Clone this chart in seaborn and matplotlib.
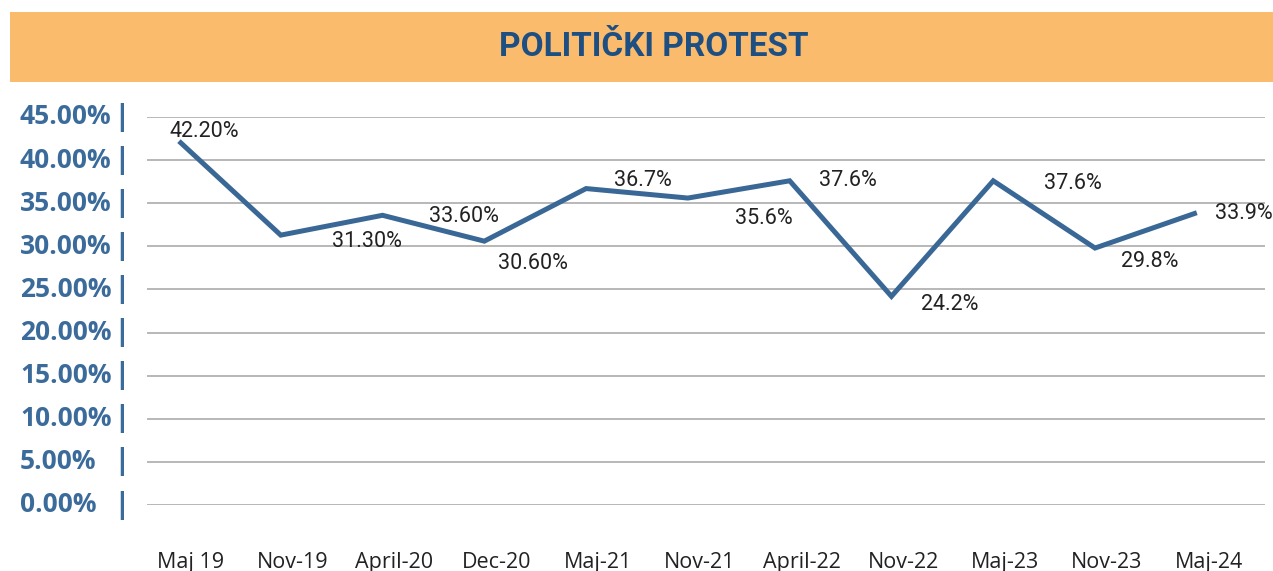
import matplotlib
matplotlib.use("Agg")
import matplotlib.pyplot as plt
import matplotlib.transforms as mtransforms
from matplotlib.patches import Rectangle
import seaborn as sns
import pandas as pd

# ---- data ----
categories = ["Maj 19", "Nov-19", "April-20", "Dec-20", "Maj-21", "Nov-21",
              "April-22", "Nov-22", "Maj-23", "Nov-23", "Maj-24"]
values = [42.2, 31.3, 33.6, 30.6, 36.7, 35.6, 37.6, 24.2, 37.6, 29.8, 33.9]
value_labels = ["42.20%", "31.30%", "33.60%", "30.60%", "36.7%", "35.6%",
                "37.6%", "24.2%", "37.6%", "29.8%", "33.9%"]
y_ticks = [0, 5, 10, 15, 20, 25, 30, 35, 40, 45]
y_tick_labels = ["0.00%", "5.00%", "10.00%", "15.00%", "20.00%", "25.00%",
                 "30.00%", "35.00%", "40.00%", "45.00%"]
title = "POLITIČKI PROTEST"

# label offsets (pixels, x right / y down) -- styling
label_offsets = [(25, -10), (86, 6), (81, 1), (49, 22), (57, -8), (76, 20),
                 (58, 0), (58, 8), (80, 3), (55, 13), (47, 1)]

LINE = "#3a6896"
TICKBLUE = "#3b6b9b"
TITLEBLUE = "#1d4f82"
BANNER = "#fbbb6c"

sns.set_theme(style="white")
plt.rcParams["font.family"] = ["Open Sans", "DejaVu Sans"]

W, H = 1273, 571
fig = plt.figure(figsize=(W / 100, H / 100), dpi=100)

# banner
fig.patches.append(Rectangle((10 / W, 1 - 82 / H), 1 - 10 / W, 70 / H,
                             transform=fig.transFigure, facecolor=BANNER,
                             edgecolor="none", zorder=0))
fig.text(654 / W, 1 - 47 / H, title, ha="center", va="center",
         fontsize=24, fontweight="bold", color=TITLEBLUE,
         family=["Roboto", "DejaVu Sans"])

ax = fig.add_axes([147 / W, 1 - 505 / H, (1265 - 147) / W, (505 - 117) / H])

df = pd.DataFrame({"cat": categories, "val": values})
df["pos"] = range(len(categories))
sns.lineplot(data=df, x="pos", y="val", ax=ax, color=LINE, linewidth=3.6,
             sort=False, solid_joinstyle="miter", solid_capstyle="butt")

ax.set_ylim(0, 45)
ax.set_xlim(-0.314, len(categories) - 1 + 0.67)
ax.set_yticks(y_ticks)
ax.set_yticklabels([])
ax.grid(axis="y", color="#ababab", linewidth=1.2)
ax.grid(axis="x", visible=False)
for s in ax.spines.values():
    s.set_visible(False)
ax.set_xlabel("")
ax.set_ylabel("")
ax.tick_params(axis="both", length=0)

# y labels with separator bars
ytrans = mtransforms.blended_transform_factory(fig.transFigure, ax.transData)
for v, lab in zip(y_ticks, y_tick_labels):
    ax.text(20 / W, v, lab, transform=ytrans, ha="left", va="center",
            fontsize=19, fontweight="bold", color=TICKBLUE, clip_on=False)
    ax.text(122 / W, v, "|", transform=ytrans, ha="center", va="center",
            fontsize=21, fontweight="bold", color=TICKBLUE, clip_on=False,
            family=["DejaVu Sans"])

# x tick labels
ax.set_xticks(list(range(len(categories))))
ax.set_xticklabels(categories, fontsize=15.5, color="#222222")
ax.tick_params(axis="x", pad=34)
shift = mtransforms.ScaledTranslation(12 / 100, 0, fig.dpi_scale_trans)
for t in ax.get_xticklabels():
    t.set_transform(t.get_transform() + shift)

# data labels
for i, (v, lab) in enumerate(zip(values, value_labels)):
    dx, dy = label_offsets[i]
    ax.annotate(lab, (i, v), xytext=(dx * 0.72, -dy * 0.72),
                textcoords="offset points", ha="center", va="center",
                fontsize=15.5, color="#222222",
                family=["Roboto", "DejaVu Sans"], annotation_clip=False)

fig.savefig("out.png", dpi=100)
